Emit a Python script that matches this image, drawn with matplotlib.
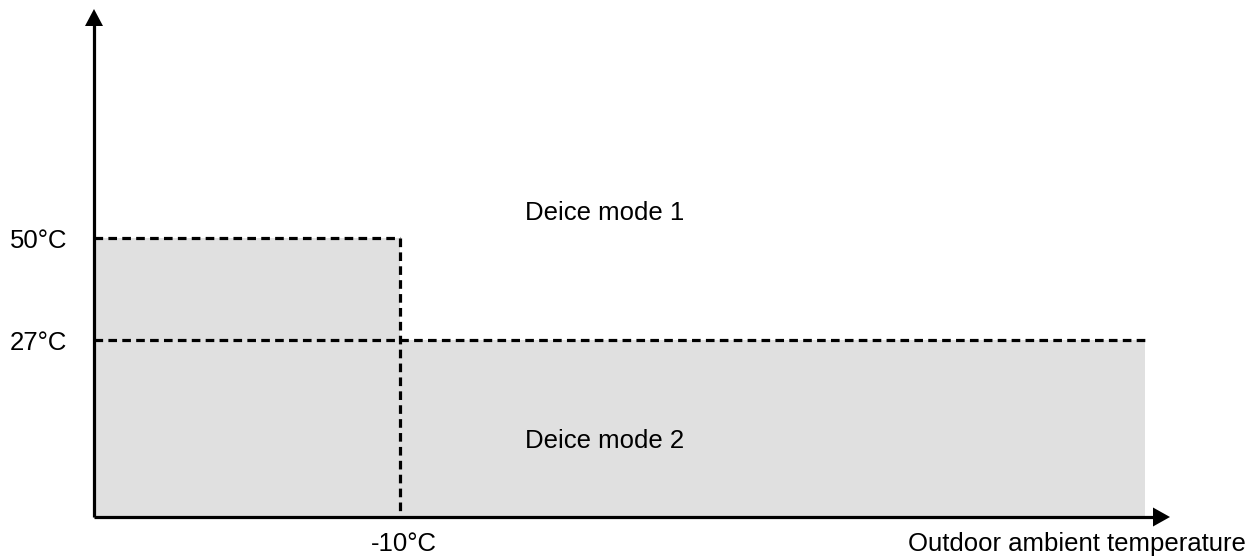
import matplotlib.pyplot as plt
from matplotlib.patches import Polygon

plt.rcParams['font.family'] = ['Liberation Sans', 'DejaVu Sans']

# schematic levels (drawing units, y grows downward)
y_labels = ['50°C', '27°C']
y_levels = [238, 340]
x_labels = ['-10°C']
x_levels = [400]
x_axis_label = 'Outdoor ambient temperature'
modes = ['Deice mode 1', 'Deice mode 2']
mode_y = [213, 441]

x0, y0 = 94, 517          # origin
x_end = 1145              # end of shaded area
gray = '#e0e0e0'

fig = plt.figure(figsize=(12.56, 5.57), dpi=100)
ax = fig.add_axes([0, 0, 1, 1])
ax.set_xlim(0, 1256)
ax.set_ylim(557, 0)
ax.axis('off')

# shaded regions
ax.fill_between([x0, x_levels[0]], y_levels[0], y0, color=gray, lw=0)
ax.fill_between([x_levels[0], x_end], y_levels[1], y0, color=gray, lw=0)

# dashed borders
dash = dict(color='black', lw=2.3, linestyle=(0, (2.7, 1.65)))
ax.plot([x0, x_levels[0]], [y_levels[0], y_levels[0]], **dash)
ax.plot([x_levels[0], x_levels[0]], [y_levels[0], y0], **dash)
ax.plot([x0, x_end], [y_levels[1], y_levels[1]], **dash)

# axes with arrow heads
ax.plot([x0, x0], [y0, 24], color='black', lw=2.3, solid_capstyle='butt')
ax.plot([x0, 1154], [y0, y0], color='black', lw=2.3, solid_capstyle='butt')
ax.add_patch(Polygon([[x0 - 9, 26], [x0 + 9, 26], [x0, 9]], closed=True,
                     color='black', lw=0))
ax.add_patch(Polygon([[1153, y0 - 9.5], [1153, y0 + 9.5], [1170, y0]], closed=True,
                     color='black', lw=0))

fs = 18.5
for lab, yv in zip(y_labels, y_levels):
    ax.text(10, yv + 3, lab, fontsize=fs, ha='left', va='center')
for lab, xv in zip(x_labels, x_levels):
    ax.text(xv + 4, 544, lab, fontsize=fs, ha='center', va='center')
ax.text(1246, 544, x_axis_label, fontsize=fs, ha='right', va='center')
for lab, yv in zip(modes, mode_y):
    ax.text(525, yv, lab, fontsize=fs, ha='left', va='center')

fig.savefig('out.png', dpi=100)
